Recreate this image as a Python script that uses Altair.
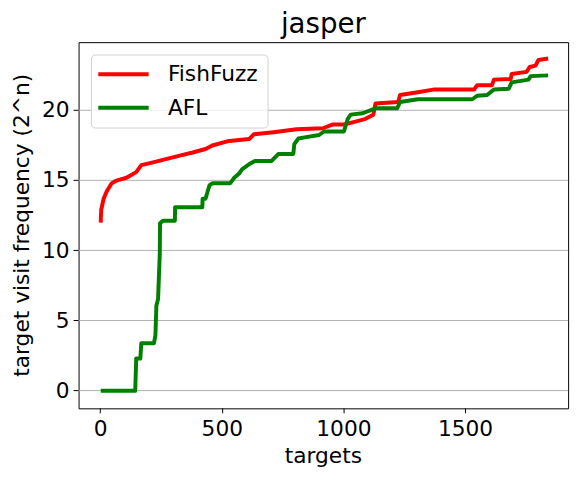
import altair as alt
import pandas as pd

# FishFuzz curve (sorted visit frequency per target, log2)
ff_x = [0, 2, 12, 24, 45, 65, 106, 146, 167, 215, 284, 329, 378, 431, 459, 520,
        610, 630, 711, 805, 914, 955, 1000, 1048, 1089, 1121, 1130, 1223, 1231,
        1304, 1373, 1536, 1548, 1609, 1617, 1686, 1690, 1751, 1764, 1788, 1800, 1840]
ff_y = [12.0, 12.9, 13.7, 14.2, 14.8, 15.0, 15.2, 15.6, 16.1, 16.3, 16.6, 16.8,
        17.0, 17.25, 17.5, 17.8, 17.96, 18.3, 18.45, 18.66, 18.73, 19.0, 19.0,
        19.2, 19.4, 19.7, 20.5, 20.6, 21.1, 21.3, 21.5, 21.5, 21.8, 21.8, 22.2,
        22.25, 22.6, 22.75, 23.1, 23.2, 23.6, 23.7]

# AFL curve
afl_x = [0, 142, 146, 163, 167, 219, 225, 229, 236, 243, 244, 256, 305, 306, 418,
         419, 431, 447, 459, 532, 549, 569, 581, 614, 634, 703, 731, 792, 796,
         813, 845, 898, 918, 1000, 1016, 1028, 1077, 1130, 1219, 1231, 1304,
         1528, 1548, 1589, 1617, 1678, 1690, 1759, 1768, 1840]
afl_y = [0.0, 0.0, 2.3, 2.3, 3.4, 3.4, 3.96, 6.08, 6.55, 9.84, 11.95, 12.13,
         12.13, 13.1, 13.1, 13.7, 13.7, 14.65, 14.8, 14.8, 15.2, 15.5, 15.8,
         16.2, 16.4, 16.4, 16.9, 16.9, 17.6, 18.0, 18.1, 18.25, 18.5, 18.5,
         19.4, 19.7, 19.8, 20.15, 20.15, 20.6, 20.8, 20.8, 21.05, 21.1, 21.5,
         21.55, 22.0, 22.2, 22.45, 22.5]

series = ["FishFuzz", "AFL"]
colors = ["#ff0000", "#008000"]
x_ticks = [0, 500, 1000, 1500]
y_ticks = [0, 5, 10, 15, 20]

df_ff = pd.DataFrame({"targets": ff_x, "freq": ff_y, "fuzzer": series[0],
                      "i": list(range(len(ff_x)))})
df_afl = pd.DataFrame({"targets": afl_x, "freq": afl_y, "fuzzer": series[1],
                       "i": list(range(len(afl_x)))})

FONT = "DejaVu Sans"

x_enc = alt.X(
    "targets:Q",
    scale=alt.Scale(domain=[-91, 1922], nice=False, zero=False),
    axis=alt.Axis(values=x_ticks, format="d", title="targets", grid=False,
                  domain=False, tickColor="black", tickSize=5, tickWidth=1,
                  translate=0,
                  labelFont=FONT, labelFontSize=22, labelColor="black",
                  labelPadding=6, labelFlush=False,
                  titleFont=FONT, titleFontSize=22, titleFontWeight="normal",
                  titleColor="black", titlePadding=6),
)
y_enc = alt.Y(
    "freq:Q",
    scale=alt.Scale(domain=[-1.25, 24.87], nice=False, zero=False),
    axis=alt.Axis(values=y_ticks, format="d", title="target visit frequency (2^n)",
                  grid=True, gridColor="#b0b0b0", gridWidth=1, domain=False,
                  tickColor="black", tickSize=5, tickWidth=1, translate=0,
                  labelFont=FONT, labelFontSize=22, labelColor="black",
                  labelPadding=4, labelFlush=False,
                  titleFont=FONT, titleFontSize=22, titleFontWeight="normal",
                  titleColor="black", titlePadding=8),
)
color_enc = alt.Color(
    "fuzzer:N",
    scale=alt.Scale(domain=series, range=colors),
    legend=alt.Legend(
        title=None, orient="none", legendX=12.5, legendY=12.5,
        symbolType="M-3,0H3", symbolSize=289, symbolStrokeWidth=4,
        symbolOffset=13, labelFont=FONT, labelFontSize=22, labelColor="black",
        labelOffset=34, rowPadding=12, padding=9,
        fillColor="rgba(255,255,255,0.8)", strokeColor="#d0d0d0",
        cornerRadius=4,
    ),
)

red = alt.Chart(df_ff).mark_line(strokeWidth=4, strokeJoin="round").encode(
    x=x_enc, y=y_enc, color=color_enc, order="i:Q")
green = alt.Chart(df_afl).mark_line(strokeWidth=4, strokeJoin="round").encode(
    x=x_enc, y=y_enc, color=color_enc, order="i:Q")

chart = alt.layer(red, green).properties(
    width=496, height=371,
    padding={"left": 71.5, "top": 31.5, "right": 9, "bottom": 72},
    autosize=alt.AutoSizeParams(type="none"),
    title=alt.TitleParams("jasper", font=FONT, fontSize=28, fontWeight="normal",
                          color="black", anchor="middle", baseline="bottom",
                          frame="group", offset=3, dy=28),
).configure(background="white").configure_view(stroke="black", strokeWidth=1)

chart.save("out.html", embed_options={"renderer": "svg", "actions": False})
